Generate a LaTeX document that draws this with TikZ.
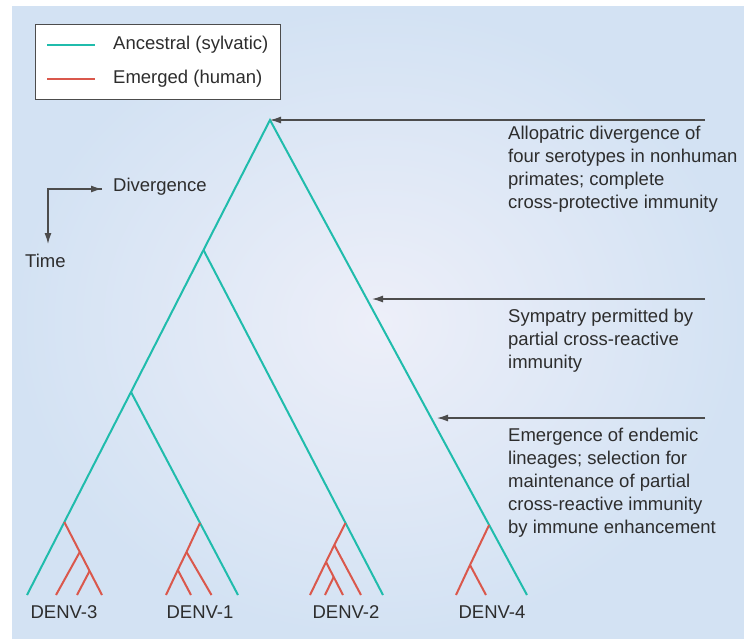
\documentclass[tikz,border=0pt]{standalone}
\usepackage{fontspec}
\setmainfont{Liberation Sans}
\usetikzlibrary{arrows.meta}
\definecolor{sylv}{RGB}{32,188,172}
\definecolor{hum}{RGB}{218,88,76}
\definecolor{txt}{RGB}{45,45,45}
\definecolor{bgin}{RGB}{237,239,249}
\definecolor{bgout}{RGB}{211,226,243}
\tikzset{
  anc/.style={draw=sylv, line width=2pt},
  emg/.style={draw=hum, line width=2pt},
  lbl/.style={text=txt, inner sep=0pt, font=\fontsize{18.5}{23}\selectfont},
  note/.style={lbl, align=left, anchor=north west},
  pointer/.style={->, draw=txt!85, line width=1.3pt},
  >={Latex[length=11pt,width=7pt]}
}

\begin{document}
\begin{tikzpicture}[x=1pt,y=-1pt]
\useasboundingbox (0,0) rectangle (744,638);
\shade[inner color=bgin, outer color=bgout] (12,6) rectangle (744,638);

% legend
\node[draw=txt!85, fill=white, line width=1.2pt, minimum width=245pt, minimum height=75pt, anchor=north west] (key) at (35,24) {};
\coordinate (ka1) at (47,45);
\coordinate (ka2) at (95,45);
\coordinate (ke1) at (47,79);
\coordinate (ke2) at (95,79);
\draw[anc] (ka1) -- (ka2);
\draw[emg] (ke1) -- (ke2);
\node[lbl, anchor=west] (anclab) at (113,45) {Ancestral (sylvatic)};
\node[lbl, anchor=west] (emglab) at (113,79) {Emerged (human)};

% axes
\coordinate (ax) at (48,189);
\coordinate (axr) at (102,189);
\coordinate (axd) at (48,244);
\draw[pointer] (axr) -- (ax) -- (axd);
\draw[pointer] (ax) -- (axr);
\node[lbl, anchor=base west] (div) at (113,191) {Divergence};
\node[lbl, anchor=base west] (time) at (25,267) {Time};

% ancestral tree
\coordinate (root) at (270,120);
\coordinate (n2) at (203.5,250);
\coordinate (n3) at (131,392);
\coordinate (d3) at (27,595);
\coordinate (d1) at (238,595);
\coordinate (d2) at (383,595);
\coordinate (d4) at (527,595);
\draw[anc] (d3) -- (n3) -- (n2) -- (root) -- (d4);
\draw[anc] (n2) -- (d2);
\draw[anc] (n3) -- (d1);

% emerged lineages
\coordinate (r3) at (64.3,522);
\coordinate (r3b) at (79.8,552);
\coordinate (r3c) at (89.6,571);
\coordinate (l3a) at (56,595);
\coordinate (l3b) at (77,595);
\coordinate (l3c) at (102,595);
\draw[emg] (r3) -- (r3b) -- (r3c) -- (l3c);
\draw[emg] (r3b) -- (l3a);
\draw[emg] (r3c) -- (l3b);

\coordinate (r1) at (200,523);
\coordinate (r1b) at (186.5,552);
\coordinate (r1c) at (177.8,570);
\coordinate (l1a) at (166,595);
\coordinate (l1b) at (191,595);
\coordinate (l1c) at (211.5,595);
\draw[emg] (r1) -- (r1b) -- (r1c) -- (l1a);
\draw[emg] (r1b) -- (l1c);
\draw[emg] (r1c) -- (l1b);

\coordinate (r2) at (345.5,523);
\coordinate (r2b) at (334.3,545);
\coordinate (r2c) at (326,562);
\coordinate (r2d) at (333.7,577);
\coordinate (l2a) at (310,595);
\coordinate (l2b) at (325,595);
\coordinate (l2c) at (343,595);
\coordinate (l2d) at (361,595);
\draw[emg] (r2) -- (r2b) -- (r2c) -- (l2a);
\draw[emg] (r2b) -- (l2d);
\draw[emg] (r2c) -- (r2d) -- (l2c);
\draw[emg] (r2d) -- (l2b);

\coordinate (r4) at (489.1,525);
\coordinate (r4b) at (470,565);
\coordinate (l4a) at (456,595);
\coordinate (l4b) at (486,595);
\draw[emg] (r4) -- (r4b) -- (l4a);
\draw[emg] (r4b) -- (l4b);

% serotype labels
\node[lbl] (lab3) at (64,612.5) {DENV-3};
\node[lbl] (lab1) at (200,612.5) {DENV-1};
\node[lbl] (lab2) at (346,612.5) {DENV-2};
\node[lbl] (lab4) at (492,612.5) {DENV-4};

% annotations
\coordinate (p1) at (705,120);
\coordinate (p2) at (705,299);
\coordinate (t2) at (372,299);
\coordinate (p3) at (705,418);
\coordinate (t3) at (437,418);
\draw[pointer] (p1) -- (root);
\draw[pointer] (p2) -- (t2);
\draw[pointer] (p3) -- (t3);
\node[note] (note1) at (508,126) {Allopatric divergence of\\four serotypes in nonhuman\\primates; complete\\cross-protective immunity};
\node[note] (note2) at (508,309) {Sympatry permitted by\\partial cross-reactive\\immunity};
\node[note] (note3) at (508,428) {Emergence of endemic\\lineages; selection for\\maintenance of partial\\cross-reactive immunity\\by immune enhancement};
\end{tikzpicture}
\end{document}
